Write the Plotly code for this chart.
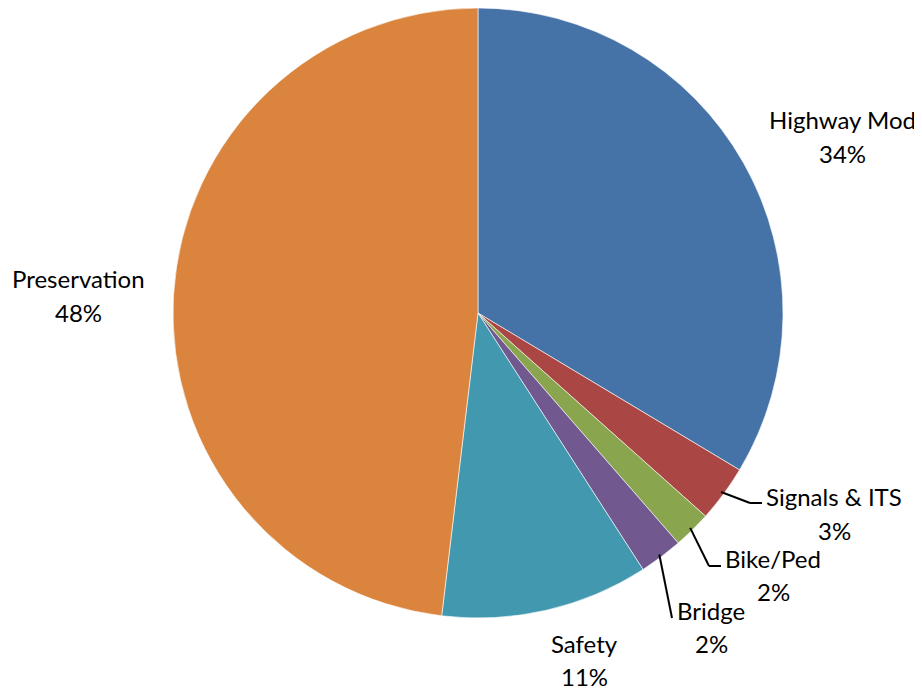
import math
import plotly.graph_objects as go

categories = ["Highway Mod", "Signals & ITS", "Bike/Ped", "Bridge", "Safety", "Preservation"]
values = [33.6, 3.0, 2.0, 2.3, 11.0, 48.1]
colors = ["#4572A7", "#AA4643", "#89A54E", "#71588F", "#4198AF", "#DB843D"]

W, H = 922, 690
OFF = 8  # page body margin offset
cx, cy, R = 478 - OFF, 313 - OFF, 305

fig = go.Figure(go.Pie(
    labels=categories, values=values, sort=False, direction="clockwise",
    rotation=0, marker=dict(colors=colors, line=dict(color="white", width=0.6)),
    textinfo="none", hoverinfo="label+percent",
    domain=dict(x=[(cx - R) / W, (cx + R) / W],
                y=[max(0, 1 - (cy + R) / H), min(1, 1 - (cy - R) / H)]),
    showlegend=False,
))

# label placement (pixel coords in the reference): center x, name line y, percent line y
label_pos = {
    "Highway Mod": (842, 120, 153),
    "Signals & ITS": (834, 496, 530),
    "Bike/Ped": (773, 558, 591),
    "Bridge": (711, 610, 643),
    "Safety": (584, 643, 676),
    "Preservation": (78, 278, 312),
}
# leader line elbows (reference pixel coords)
leaders = {
    "Signals & ITS": [(750, 503), (762, 503)],
    "Bike/Ped": [(709, 566), (721, 566)],
    "Bridge": [(672, 618)],
}

total = sum(values)
pcts = [round(v / total * 100) for v in values]
font = dict(family="Lato, Carlito, sans-serif", size=24, color="black")

def px(x, y):
    return (x - OFF) / W, 1 - (y - OFF) / H

cum = 0
for cat, v, p in zip(categories, values, pcts):
    mid = (cum + v / 2) / total * 2 * math.pi
    cum += v
    lx, ly1, ly2 = label_pos[cat]
    for txt, yy in ((cat, ly1), (f"{p}%", ly2)):
        ax_, ay_ = px(lx, yy)
        fig.add_annotation(x=ax_, y=ay_, xref="paper", yref="paper", text=txt,
                           showarrow=False, font=font, xanchor="center", yanchor="middle")
    if cat in leaders:
        start = (cx + OFF + R * 0.99 * math.sin(mid), cy + OFF - R * 0.99 * math.cos(mid))
        pts = [start] + leaders[cat]
        for (x0, y0), (x1, y1) in zip(pts[:-1], pts[1:]):
            a0, b0 = px(x0, y0)
            a1, b1 = px(x1, y1)
            fig.add_shape(type="line", xref="paper", yref="paper", x0=a0, y0=b0, x1=a1, y1=b1,
                          line=dict(color="black", width=2))

fig.update_layout(width=W, height=H, margin=dict(l=0, r=0, t=0, b=0),
                  paper_bgcolor="white", plot_bgcolor="white")
fig.write_html("out.html")
